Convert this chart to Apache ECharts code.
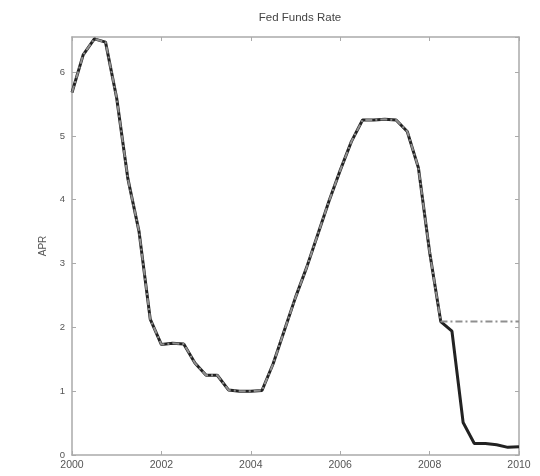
<!DOCTYPE html>
<html><head><meta charset="utf-8">
<script src="https://cdn.jsdelivr.net/npm/echarts@6/dist/echarts.min.js"></script>
<style>html,body{margin:0;padding:0;background:#fff}#c{width:540px;height:476px}</style>
</head><body><div id="c"></div>
<script>
var dates = [2000, 2000.25, 2000.5, 2000.75, 2001, 2001.25, 2001.5, 2001.75,
  2002, 2002.25, 2002.5, 2002.75, 2003, 2003.25, 2003.5, 2003.75,
  2004, 2004.25, 2004.5, 2004.75, 2005, 2005.25, 2005.5, 2005.75,
  2006, 2006.25, 2006.5, 2006.75, 2007, 2007.25, 2007.5, 2007.75,
  2008, 2008.25, 2008.5, 2008.75, 2009, 2009.25, 2009.5, 2009.75, 2010];
var actual = [5.68, 6.27, 6.52, 6.47, 5.59, 4.33, 3.50, 2.13,
  1.73, 1.75, 1.74, 1.44, 1.25, 1.25, 1.02, 1.00,
  1.00, 1.01, 1.43, 1.95, 2.47, 2.94, 3.46, 3.98,
  4.46, 4.91, 5.25, 5.25, 5.26, 5.25, 5.07, 4.50,
  3.18, 2.09, 1.94, 0.51, 0.18, 0.18, 0.16, 0.12, 0.13];
var counterfactual = [5.68, 6.27, 6.52, 6.47, 5.59, 4.33, 3.50, 2.13,
  1.73, 1.75, 1.74, 1.44, 1.25, 1.25, 1.02, 1.00,
  1.00, 1.01, 1.43, 1.95, 2.47, 2.94, 3.46, 3.98,
  4.46, 4.91, 5.25, 5.25, 5.26, 5.25, 5.07, 4.50,
  3.18, 2.09, 2.09, 2.09, 2.09, 2.09, 2.09, 2.09, 2.09];
var xTicks = [2000, 2002, 2004, 2006, 2008, 2010];
var yTicks = [0, 1, 2, 3, 4, 5, 6];

var chart = echarts.init(document.getElementById('c'), null, {renderer: 'canvas'});
function pairs(v){ return dates.map(function(d,i){ return [d, v[i]]; }); }
var axisCol = '#aaa', txt = '#555', ff = 'Liberation Sans';
function xAx(pos, show){
  return {type:'value', position:pos, min:2000, max:2010, interval:2,
    axisLine:{show:true, onZero:false, lineStyle:{color:axisCol, width:1.5}},
    axisTick:{show:true, inside:true, length:4, lineStyle:{color:axisCol}},
    axisLabel:{show:show, color:txt, fontSize:10.5, fontFamily:ff, margin:5,
      formatter:function(v){return xTicks.indexOf(v)>=0?String(v):'';}},
    splitLine:{show:false}};
}
function yAx(pos, show){
  return {type:'value', position:pos, min:0, max:6.55, interval:1,
    name: show ? 'APR' : '', nameLocation:'middle', nameGap:24, nameRotate:90,
    nameTextStyle:{color:txt, fontSize:10, fontFamily:ff},
    axisLine:{show:true, onZero:false, lineStyle:{color:axisCol, width:1.5}},
    axisTick:{show:true, inside:true, length:4, lineStyle:{color:axisCol}},
    axisLabel:{show:show, color:txt, fontSize:9.5, fontFamily:ff, margin:7,
      showMaxLabel:false, formatter:function(v){return yTicks.indexOf(v)>=0?String(v):'';}},
    splitLine:{show:false}};
}
chart.setOption({
  animation:false,
  backgroundColor:'#fff',
  title:{text:'Fed Funds Rate', left:295, top:7, textAlign:'center',
    textStyle:{color:'#444', fontSize:11.5, fontWeight:'normal', fontFamily:ff}},
  grid:{left:72, right:21, top:37, bottom:21, containLabel:false},
  xAxis:[xAx('bottom', true), xAx('top', false)],
  yAxis:[yAx('left', true), yAx('right', false)],
  series:[
    {type:'line', data:pairs(actual), showSymbol:false, symbol:'none',
      lineStyle:{color:'#222', width:3, type:'solid'}, z:2},
    {type:'line', data:pairs(counterfactual), showSymbol:false, symbol:'none',
      lineStyle:{color:'#8f8f8f', width:2, type:[7,3,2,3]}, z:3}
  ]
});
</script></body></html>
